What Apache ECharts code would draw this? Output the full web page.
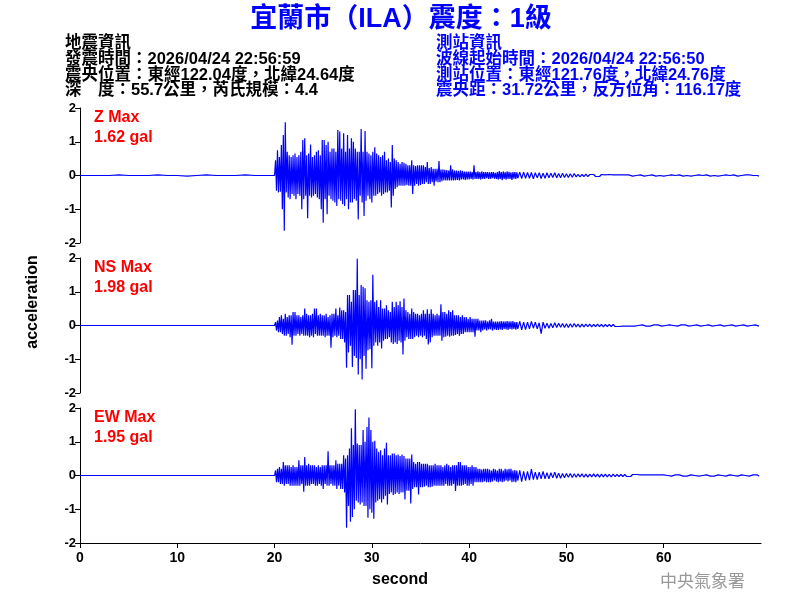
<!DOCTYPE html>
<html><head><meta charset="utf-8">
<script src="https://cdn.jsdelivr.net/npm/echarts@6/dist/echarts.min.js"></script>
<style>html,body{margin:0;padding:0;background:#fff}#c{width:800px;height:600px}</style>
</head><body><div id="c"></div>
<script>
const FONT = '"Liberation Sans", "Noto Sans CJK TC", sans-serif';
const titleText = '宜蘭市（ILA）震度：1級';
const leftInfo = ['地震資訊', '發震時間：2026/04/24 22:56:59', '震央位置：東經122.04度，北緯24.64度', '深　度：55.7公里，芮氏規模：4.4'];
const rightInfo = ['測站資訊', '波線起始時間：2026/04/24 22:56:50', '測站位置：東經121.76度，北緯24.76度', '震央距：31.72公里，反方位角：116.17度'];
const componentNames = ['Z Max', 'NS Max', 'EW Max'];
const maxLabels = ['1.62 gal', '1.98 gal', '1.95 gal'];
const xTicks = [0, 10, 20, 30, 40, 50, 60];
const yName = 'acceleration';
const xName = 'second';
const agency = '中央氣象署';

// Sample blocks: pre-event 1 s step from 0 s; core 0.1 s step from 20 s; tail 0.2 s step from 45 s
const preStart = 0, preStep = 1;
const coreStart = 20, coreStep = 0.1;
const tailStart = 45, tailStep = 0.2;

const preZ  = [0,0,0,0,0.02,0,0,0,0.02,0,0,-0.02,0,0.02,0,0,0,0.02,0,0];
const preNS = [0,0,0,0,0,0,0,0,0,0,0,0,0,0,0,0,0,0,0,0];
const preEW = [0,0,0,0,0,0,0,0,0,0,0,0,0,0,0,0,0,0,0,0];

const coreZ = [
0,0.45,-0.45,0.75,-0.5,0.55,-0.48,0.9,-1.0,1.2,
-1.64,1.58,-0.5,0.7,-0.65,0.6,-0.7,0.55,-0.55,0.6,
-0.6,0.65,-0.7,0.55,-0.55,0.6,-0.6,0.7,-1.0,1.05,
-0.7,1.1,-0.6,0.6,-1.27,0.65,-0.6,0.92,-0.65,0.55,
-0.6,0.6,-0.55,0.7,-0.65,0.75,-0.7,0.6,-1.0,1.05,
-1.4,1.05,-0.7,0.9,-1.15,1.0,-0.6,0.7,-0.7,0.8,
-0.75,0.8,-0.8,0.7,-0.9,1.35,-0.7,1.3,-0.75,0.8,
-0.85,1.25,-0.9,0.7,-0.7,1.2,-1.0,0.8,-0.8,1.1,
-0.8,1.0,-0.7,0.8,-0.75,0.7,-1.3,0.7,-0.6,1.38,
-0.8,0.7,-1.2,1.32,-0.75,0.7,-0.6,0.65,-0.7,0.6,
-0.8,0.7,-0.6,0.84,-0.6,0.65,-0.55,0.6,-0.5,0.55,
-0.6,0.6,-0.55,0.7,-0.5,0.45,-0.5,0.5,-0.45,0.4,
-0.95,0.9,-0.6,0.5,-0.4,0.45,-0.35,0.4,-0.3,0.35,
-0.3,0.4,-0.3,0.38,-0.3,0.35,-0.28,0.3,-0.3,0.3,
-0.3,0.45,-0.55,0.3,-0.3,0.28,-0.25,0.3,-0.3,0.3,
-0.28,0.3,-0.25,0.3,-0.25,0.25,-0.2,0.4,-0.25,0.22,
-0.25,0.25,-0.2,0.2,-0.3,0.2,-0.18,0.2,-0.2,0.43,
-0.2,0.18,-0.17,0.18,-0.15,0.17,-0.15,0.16,-0.15,0.15,
-0.15,0.3,-0.15,0.18,-0.15,0.15,-0.14,0.15,-0.13,0.14,
-0.15,0.15,-0.12,0.14,-0.12,0.12,-0.13,0.12,-0.12,0.12,
-0.12,0.12,-0.1,0.1,-0.12,0.3,-0.1,0.1,-0.1,0.12,
-0.1,0.1,-0.12,0.12,-0.1,0.1,-0.1,0.1,-0.08,0.1,
-0.1,0.09,-0.1,0.1,-0.08,0.1,-0.09,0.08,-0.1,0.1,
-0.12,0.13,-0.1,0.1,-0.14,0.12,-0.1,0.1,-0.12,0.12,
-0.1,0.11,-0.1,0.09,-0.13,0.1,-0.09,0.1,-0.1,0.09
];
const tailZ = [
-0.08,0.1,-0.09,0.1,-0.08,
0.09,-0.08,0.09,-0.1,0.08,
-0.07,0.08,-0.09,0.07,-0.08,
0.08,-0.07,0.07,-0.06,0.08,
-0.07,0.06,-0.07,0.07,-0.06,
0.05,-0.06,0.05,-0.05,0.06,
-0.04,0.03,-0.04,0.03,-0.03,
0.04,-0.03,0.03,-0.02,0.03,
-0.03,0.02,-0.03,0.03,-0.02,
0.02,-0.02,0.03,-0.02,0.02,
-0.03,0.02,-0.02,0.02,-0.02,
0.02,-0.02,0.02,0,-0.02,
0.02,0,-0.02,0.02,0,
-0.02,0.02,0,-0.02,0.02,
0,-0.02,0.02,0,0,
-0.02,0.02,0,-0.02,0.02,
0,0,-0.02,0.02,0,
-0.02,0.02,0,0,-0.02,
0.02,0,-0.02,0.02,0,
0,-0.02,0.02,0,-0.02,
0.02,0,0,-0.02,0.02,
0,-0.02,0.02,0,0,
-0.02,0.02,0,-0.02,0.02,
0,-0.02,0.02,0,0.02,
-0.02,0,0.02,0,-0.02
];

const coreNS = [
0,0.1,-0.15,0.15,-0.2,0.25,-0.2,0.3,-0.25,0.2,
-0.3,0.35,-0.3,0.25,-0.25,0.3,-0.35,0.3,-0.57,0.4,
-0.3,0.4,-0.3,0.3,-0.25,0.3,-0.3,0.25,-0.25,0.3,
-0.3,0.5,-0.3,0.35,-0.3,0.3,-0.35,0.3,-0.3,0.35,
-0.35,0.5,-0.25,0.5,-0.3,0.3,-0.3,0.35,-0.3,0.3,
-0.3,0.3,-0.35,0.35,-0.3,0.25,-0.3,0.3,-0.66,0.35,
-0.35,0.35,-0.3,0.5,-0.35,0.3,-0.3,0.53,-0.4,0.45,
-0.4,0.45,-0.5,0.4,-1.25,0.9,-0.8,0.9,-0.6,0.7,
-1.23,1.05,-0.9,1.05,-0.96,1.98,-1.45,0.9,-1.0,1.2,
-1.6,1.15,-0.9,1.1,-1.28,0.75,-0.73,0.7,-0.7,0.75,
-1.27,1.5,-0.6,0.7,-0.5,0.75,-0.6,0.55,-0.5,0.75,
-0.68,0.5,-0.45,0.5,-0.4,0.6,-0.4,0.45,-0.35,0.4,
-0.5,0.7,-0.55,0.55,-0.5,0.7,-0.55,0.6,-0.45,0.72,
-0.5,0.55,-0.86,0.8,-0.45,0.45,-0.35,0.4,-0.4,0.35,
-0.4,0.5,-0.4,0.4,-0.35,0.35,-0.3,0.35,-0.35,0.3,
-0.3,0.35,-0.35,0.45,-0.3,0.35,-0.4,0.48,-0.56,0.35,
-0.5,0.48,-0.35,0.35,-0.3,0.3,-0.3,0.35,-0.3,0.3,
-0.3,0.63,-0.45,0.4,-0.35,0.4,-0.33,0.35,-0.3,0.45,
-0.33,0.4,-0.3,0.45,-0.3,0.3,-0.28,0.3,-0.25,0.3,
-0.3,0.25,-0.25,0.3,-0.25,0.25,-0.2,0.25,-0.2,0.2,
-0.2,0.25,-0.2,0.2,-0.2,0.2,-0.33,0.2,-0.15,0.2,
-0.15,0.15,-0.2,0.15,-0.15,0.15,-0.12,0.15,-0.15,0.12,
-0.12,0.15,-0.12,0.2,-0.15,0.12,-0.12,0.12,-0.13,0.12,
-0.13,0.12,-0.12,0.13,-0.13,0.12,-0.1,0.12,-0.12,0.13,
-0.13,0.12,-0.1,0.12,-0.12,0.13,-0.1,0.1,-0.12,0.1
];
const tailNS = [
-0.1,0.12,-0.13,0.1,-0.12,
0.1,-0.1,0.12,-0.08,0.1,
-0.1,0.08,-0.24,0.1,-0.08,
0.07,-0.08,0.06,-0.07,0.08,
-0.06,0.07,-0.05,0.06,-0.06,
0.05,-0.06,0.05,-0.05,0.06,
-0.04,0.04,-0.05,0.04,-0.04,
0.04,-0.03,0.04,-0.04,0.03,
-0.03,0.04,-0.03,0.03,-0.04,
0.03,-0.03,0.03,-0.03,0.03,
-0.03,0.02,-0.03,0.02,-0.02,
0.02,-0.02,0.03,-0.02,0.02,
-0.02,0.02,0,-0.02,0.02,
0,-0.02,0.02,-0.02,0,
0.02,-0.02,0.02,0,-0.02,
0.02,0,-0.02,0.02,-0.02,
0,0.02,-0.02,0,0.02,
-0.02,0.02,0,-0.02,0.02,
0,-0.02,0.02,0,-0.02,
0.02,0,-0.02,0.02,0,
-0.02,0.02,0,-0.02,0.02,
0,-0.02,0.02,0,-0.02,
0.02,0,-0.02,0.02,0,
-0.02,0.02,0,-0.02,0.02,
0,-0.02,0.02,0,-0.02
];

const coreEW = [
0,0.15,-0.2,0.2,-0.2,0.25,-0.25,0.2,-0.25,0.4,
-0.3,0.3,-0.25,0.3,-0.25,0.3,-0.3,0.25,-0.3,0.3,
-0.3,0.25,-0.3,0.25,-0.3,0.45,-0.3,0.3,-0.25,0.3,
-0.48,0.55,-0.3,0.3,-0.3,0.35,-0.3,0.3,-0.25,0.3,
-0.25,0.3,-0.3,0.25,-0.3,0.3,-0.25,0.25,-0.3,0.3,
-0.4,0.3,-0.25,0.3,-0.3,0.72,-0.3,0.3,-0.25,0.3,
-0.3,0.3,-0.3,0.45,-0.4,0.35,-0.3,0.35,-0.4,0.35,
-0.4,0.6,-0.5,0.5,-1.55,0.6,-0.9,0.8,-1.37,1.4,
-1.23,0.9,-1.0,1.96,-0.75,0.95,-0.8,0.9,-0.86,0.9,
-0.8,1.35,-0.9,1.0,-0.9,1.44,-1.25,1.72,-1.0,1.35,
-1.1,1.0,-1.28,1.03,-0.8,0.8,-0.75,0.7,-0.7,0.75,
-0.8,0.6,-0.7,0.8,-0.6,0.97,-0.86,0.6,-0.55,0.6,
-0.5,0.65,-0.58,0.65,-0.55,0.6,-0.5,0.62,-0.55,0.58,
-0.5,0.62,-0.5,0.58,-0.71,0.5,-0.45,0.5,-0.45,0.5,
-0.83,0.62,-0.4,0.4,-0.35,0.35,-0.35,0.4,-0.56,0.4,
-0.35,0.35,-0.35,0.35,-0.33,0.35,-0.3,0.35,-0.35,0.3,
-0.35,0.3,-0.33,0.3,-0.3,0.35,-0.3,0.3,-0.3,0.3,
-0.3,0.3,-0.3,0.25,-0.3,0.3,-0.25,0.35,-0.3,0.3,
-0.3,0.25,-0.3,0.3,-0.25,0.3,-0.46,0.3,-0.3,0.4,
-0.3,0.4,-0.3,0.3,-0.28,0.3,-0.25,0.3,-0.3,0.25,
-0.3,0.25,-0.25,0.3,-0.3,0.25,-0.2,0.25,-0.2,0.2,
-0.2,0.2,-0.2,0.18,-0.2,0.2,-0.18,0.2,-0.2,0.2,
-0.2,0.18,-0.2,0.15,-0.18,0.2,-0.15,0.18,-0.18,0.15,
-0.2,0.2,-0.18,0.2,-0.2,0.15,-0.18,0.2,-0.15,0.18,
-0.18,0.2,-0.15,0.2,-0.2,0.15,-0.18,0.16,-0.2,0.15
];
const tailEW = [
-0.15,0.15,-0.18,0.12,-0.15,
0.12,-0.14,0.19,-0.12,0.1,
-0.12,0.1,-0.1,0.12,-0.1,
0.08,-0.1,0.08,-0.07,0.1,
-0.08,0.07,-0.08,0.06,-0.07,
0.06,-0.05,0.06,-0.06,0.05,
-0.05,0.05,-0.04,0.05,-0.05,
0.04,-0.05,0.04,-0.04,0.05,
-0.04,0.04,-0.05,0.04,-0.04,
0.04,-0.04,0.03,-0.04,0.04,
-0.03,0.03,-0.03,0.03,-0.03,
0.03,-0.03,0.02,-0.03,0.03,
-0.02,0.03,-0.02,0.02,-0.03,
0.02,-0.02,0.02,-0.03,0.02,
-0.02,0.02,-0.02,0.02,-0.02,
0.02,-0.02,0,0.02,-0.02,
0,0.02,-0.02,0.02,0,
-0.02,0.02,-0.02,0,0.02,
-0.02,0,0.02,-0.02,0.02,
0,-0.02,0.02,0,-0.02,
0.02,-0.02,0,0.02,-0.02,
0,0.02,-0.02,0,0.02,
-0.02,0,0.02,-0.02,0,
0.02,-0.02,0,0.02,-0.02,
0,0.02,-0.02,0.02,-0.02
];

const blocks = [
  [preZ, coreZ, tailZ],
  [preNS, coreNS, tailNS],
  [preEW, coreEW, tailEW]
];

function buildSeriesData(pre, core, tail) {
  const out = [];
  pre.forEach((v, i) => out.push([preStart + i * preStep, v]));
  core.forEach((v, i) => out.push([+(coreStart + i * coreStep).toFixed(2), v]));
  tail.forEach((v, i) => out.push([+(tailStart + i * tailStep).toFixed(2), v]));
  return out;
}

const gridTops = [108, 258, 408];
const gridH = 135;
const chart = echarts.init(document.getElementById('c'), null, {renderer: 'canvas'});

const grids = gridTops.map(t => ({left: 80, right: 39, top: t, height: gridH}));
const xAxes = gridTops.map((t, i) => ({
  type: 'value', gridIndex: i, min: 0, max: 70, interval: 10,
  show: i === 2,
  axisLine: {show: true, onZero: false, lineStyle: {color: '#000', width: 1}},
  axisTick: {show: true, length: 5, customValues: xTicks, lineStyle: {color: '#000'}},
  axisLabel: {customValues: xTicks, color: '#000', fontFamily: FONT, fontWeight: 'bold', fontSize: 14, margin: 8},
  splitLine: {show: false}
}));
const yAxes = gridTops.map((t, i) => ({
  type: 'value', gridIndex: i, min: -2, max: 2, interval: 1,
  axisLine: {show: true, onZero: false, lineStyle: {color: '#000', width: 1}},
  axisTick: {show: true, length: 5, lineStyle: {color: '#000'}},
  axisLabel: {color: '#000', fontFamily: FONT, fontWeight: 'bold', fontSize: 13, margin: 4},
  splitLine: {show: false}
}));
const series = blocks.map((b, i) => ({
  type: 'line', xAxisIndex: i, yAxisIndex: i,
  data: buildSeriesData(b[0], b[1], b[2]),
  showSymbol: false, symbol: 'none', smooth: false,
  lineStyle: {color: '#0000ff', width: 1.2},
  itemStyle: {color: '#0000ff'},
  animation: false, silent: true
}));

const graphics = [];
graphics.push({type: 'text', x: 401, y: 20, style: {text: titleText, fill: '#0000ff', font: 'bold 27px ' + FONT, textAlign: 'center', textVerticalAlign: 'middle'}});
const infoY = [43, 59, 75, 90];
leftInfo.forEach((s, i) => graphics.push({type: 'text', x: 65, y: infoY[i], style: {text: s, fill: '#000', font: 'bold 16.5px ' + FONT, textAlign: 'left', textVerticalAlign: 'middle'}}));
rightInfo.forEach((s, i) => graphics.push({type: 'text', x: 436, y: infoY[i], style: {text: s, fill: '#0000ff', font: 'bold 16.5px ' + FONT, textAlign: 'left', textVerticalAlign: 'middle'}}));
gridTops.forEach((t, i) => {
  graphics.push({type: 'text', x: 94, y: t + 10, style: {text: componentNames[i], fill: '#ff0000', font: 'bold 16px ' + FONT, textAlign: 'left', textVerticalAlign: 'middle'}});
  graphics.push({type: 'text', x: 94, y: t + 30, style: {text: maxLabels[i], fill: '#ff0000', font: 'bold 16px ' + FONT, textAlign: 'left', textVerticalAlign: 'middle'}});
});
graphics.push({type: 'text', x: 33, y: 302, rotation: Math.PI / 2, style: {text: yName, fill: '#000', font: 'bold 16px ' + FONT, textAlign: 'center', textVerticalAlign: 'middle'}});
graphics.push({type: 'text', x: 400, y: 580, style: {text: xName, fill: '#000', font: 'bold 16px ' + FONT, textAlign: 'center', textVerticalAlign: 'middle'}});
graphics.push({type: 'text', x: 745, y: 581, style: {text: agency, fill: '#999999', font: '17px "Noto Sans CJK TC", sans-serif', textAlign: 'right', textVerticalAlign: 'middle'}});

chart.setOption({
  animation: false,
  backgroundColor: '#ffffff',
  grid: grids, xAxis: xAxes, yAxis: yAxes, series: series,
  graphic: graphics
});
</script></body></html>
